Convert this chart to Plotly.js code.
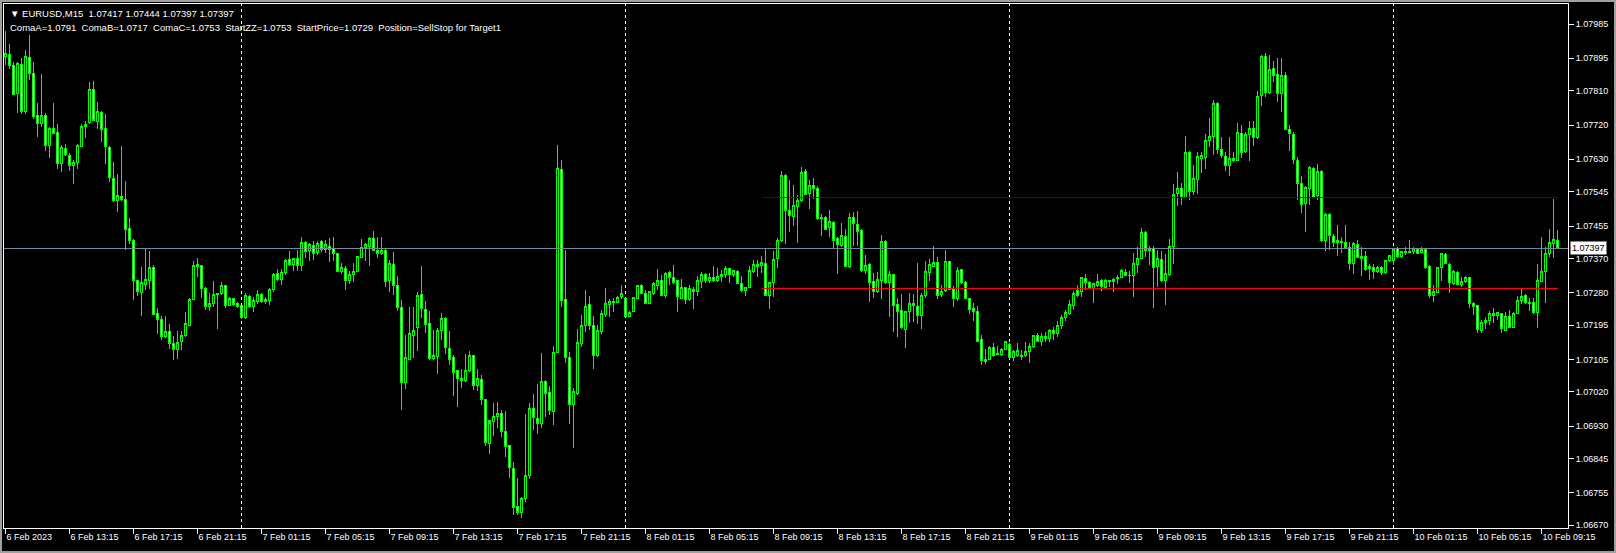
<!DOCTYPE html>
<html><head><meta charset="utf-8">
<script src="https://cdn.plot.ly/plotly-3.0.1.min.js"></script>
<style>
html,body{margin:0;padding:0;background:#000;overflow:hidden}
#chart{position:absolute;left:0;top:0;width:1616px;height:553px}
#chart svg path{shape-rendering:crispEdges}
#frame{position:absolute;left:0;top:0;width:1612px;height:549px;border:2px solid #a0a0a0;pointer-events:none}
</style></head><body>
<div id="chart"></div><div id="frame"></div>
<script>
const symbol = "EURUSD,M15";
const startTime = [2023, 1, 6, 9, 15]; // 6 Feb 2023 09:15, M15 bars
const barMinutes = 15;

const open = [
1.07901,1.07905,1.07875,1.07802,1.07880,1.07755,1.07897,1.07854,1.07745,1.07724,
1.07746,1.07665,1.07711,1.07700,1.07618,1.07658,1.07640,1.07613,1.07621,1.07663,
1.07715,1.07726,1.07812,1.07730,1.07753,1.07712,1.07662,1.07580,1.07521,1.07533,
1.07525,1.07448,1.07418,1.07312,1.07280,1.07301,1.07313,1.07347,1.07225,1.07210,
1.07164,1.07179,1.07147,1.07131,1.07151,1.07167,1.07195,1.07262,1.07350,1.07351,
1.07292,1.07245,1.07251,1.07275,1.07278,1.07299,1.07247,1.07265,1.07251,1.07246,
1.07214,1.07271,1.07245,1.07258,1.07276,1.07257,1.07259,1.07289,1.07331,1.07315,
1.07334,1.07366,1.07355,1.07370,1.07351,1.07413,1.07391,1.07404,1.07386,1.07414,
1.07394,1.07401,1.07397,1.07384,1.07336,1.07344,1.07313,1.07329,1.07336,1.07372,
1.07398,1.07401,1.07423,1.07392,1.07383,1.07392,1.07311,1.07355,1.07300,1.07242,
1.07045,1.07106,1.07169,1.07188,1.07274,1.07237,1.07200,1.07107,1.07112,1.07180,
1.07213,1.07134,1.07111,1.07075,1.07056,1.07050,1.07075,1.07114,1.07036,1.07051,
1.06999,1.06885,1.06942,1.06955,1.06964,1.06917,1.06878,1.06819,1.06718,1.06704,
1.06740,1.06800,1.06975,1.06950,1.06936,1.07048,1.07018,1.06968,1.07123,1.07604,
1.07261,1.07110,1.06987,1.07016,1.07146,1.07195,1.07248,1.07193,1.07115,1.07178,
1.07224,1.07249,1.07254,1.07254,1.07270,1.07264,1.07217,1.07230,1.07265,1.07298,
1.07279,1.07251,1.07279,1.07300,1.07311,1.07272,1.07333,1.07320,1.07311,1.07265,
1.07294,1.07262,1.07288,1.07283,1.07309,1.07328,1.07312,1.07320,1.07312,1.07322,
1.07328,1.07344,1.07328,1.07335,1.07305,1.07285,1.07294,1.07335,1.07348,1.07351,
1.07357,1.07272,1.07307,1.07370,1.07416,1.07588,1.07496,1.07479,1.07505,1.07521,
1.07599,1.07539,1.07560,1.07553,1.07474,1.07477,1.07450,1.07465,1.07422,1.07405,
1.07428,1.07348,1.07477,1.07460,1.07444,1.07337,1.07355,1.07310,1.07282,1.07313,
1.07415,1.07306,1.07329,1.07250,1.07234,1.07184,1.07230,1.07252,1.07245,1.07219,
1.07272,1.07332,1.07350,1.07359,1.07275,1.07285,1.07362,1.07288,1.07266,1.07341,
1.07307,1.07265,1.07238,1.07231,1.07157,1.07105,1.07106,1.07136,1.07117,1.07117,
1.07131,1.07145,1.07109,1.07116,1.07116,1.07114,1.07125,1.07138,1.07168,1.07153,
1.07165,1.07160,1.07180,1.07172,1.07195,1.07215,1.07226,1.07246,1.07285,1.07283,
1.07318,1.07307,1.07290,1.07298,1.07311,1.07294,1.07310,1.07309,1.07318,1.07320,
1.07333,1.07326,1.07324,1.07355,1.07370,1.07438,1.07390,1.07396,1.07348,1.07368,
1.07311,1.07329,1.07401,1.07539,1.07554,1.07530,1.07648,1.07545,1.07578,1.07632,
1.07635,1.07679,1.07689,1.07777,1.07656,1.07637,1.07613,1.07633,1.07628,1.07698,
1.07650,1.07694,1.07711,1.07687,1.07797,1.07899,1.07806,1.07869,1.07853,1.07803,
1.07851,1.07709,1.07696,1.07628,1.07566,1.07514,1.07553,1.07606,1.07534,1.07599,
1.07416,1.07485,1.07428,1.07418,1.07411,1.07412,1.07398,1.07356,1.07406,1.07371,
1.07376,1.07343,1.07346,1.07335,1.07346,1.07332,1.07364,1.07365,1.07396,1.07374,
1.07385,1.07389,1.07387,1.07394,1.07385,1.07394,1.07349,1.07273,1.07280,1.07346,
1.07380,1.07354,1.07304,1.07333,1.07301,1.07310,1.07320,1.07252,1.07246,1.07182,
1.07201,1.07206,1.07225,1.07219,1.07225,1.07182,1.07218,1.07190,1.07225,1.07259,
1.07272,1.07254,1.07254,1.07227,1.07310,1.07335,1.07383,1.07409,1.07417];

const high = [
1.07967,1.07932,1.07886,1.07886,1.07895,1.07917,1.07956,1.07885,1.07777,1.07853,
1.07752,1.07715,1.07777,1.07722,1.07667,1.07670,1.07647,1.07628,1.07671,1.07722,
1.07731,1.07833,1.07835,1.07780,1.07756,1.07749,1.07665,1.07622,1.07591,1.07665,
1.07573,1.07477,1.07422,1.07314,1.07347,1.07394,1.07389,1.07352,1.07240,1.07218,
1.07218,1.07199,1.07166,1.07179,1.07179,1.07229,1.07266,1.07363,1.07372,1.07352,
1.07295,1.07278,1.07310,1.07278,1.07308,1.07301,1.07269,1.07266,1.07256,1.07247,
1.07278,1.07273,1.07269,1.07286,1.07279,1.07270,1.07292,1.07331,1.07342,1.07342,
1.07368,1.07390,1.07372,1.07392,1.07426,1.07416,1.07410,1.07416,1.07416,1.07418,
1.07418,1.07423,1.07426,1.07385,1.07358,1.07349,1.07336,1.07357,1.07377,1.07420,
1.07410,1.07425,1.07441,1.07427,1.07426,1.07395,1.07366,1.07388,1.07325,1.07261,
1.07169,1.07243,1.07243,1.07281,1.07350,1.07259,1.07232,1.07182,1.07188,1.07227,
1.07217,1.07180,1.07117,1.07077,1.07080,1.07119,1.07126,1.07117,1.07080,1.07064,
1.07001,1.06936,1.06991,1.06994,1.06972,1.06970,1.06880,1.06837,1.06793,1.06745,
1.06963,1.06991,1.07013,1.07040,1.07121,1.07051,1.07035,1.07140,1.07668,1.07628,
1.07392,1.07124,1.07029,1.07185,1.07222,1.07287,1.07271,1.07219,1.07195,1.07235,
1.07292,1.07264,1.07265,1.07271,1.07300,1.07265,1.07232,1.07270,1.07300,1.07303,
1.07287,1.07285,1.07309,1.07342,1.07327,1.07334,1.07337,1.07353,1.07313,1.07316,
1.07296,1.07300,1.07296,1.07324,1.07335,1.07331,1.07331,1.07350,1.07344,1.07340,
1.07350,1.07346,1.07340,1.07340,1.07324,1.07296,1.07350,1.07365,1.07366,1.07377,
1.07395,1.07309,1.07390,1.07423,1.07599,1.07591,1.07575,1.07562,1.07536,1.07610,
1.07604,1.07577,1.07582,1.07560,1.07486,1.07482,1.07498,1.07468,1.07425,1.07464,
1.07448,1.07488,1.07491,1.07494,1.07446,1.07378,1.07357,1.07332,1.07335,1.07431,
1.07418,1.07336,1.07330,1.07266,1.07276,1.07231,1.07278,1.07276,1.07358,1.07280,
1.07363,1.07368,1.07402,1.07374,1.07300,1.07392,1.07363,1.07297,1.07348,1.07342,
1.07310,1.07267,1.07254,1.07245,1.07169,1.07131,1.07140,1.07149,1.07140,1.07136,
1.07153,1.07147,1.07129,1.07149,1.07129,1.07151,1.07149,1.07170,1.07173,1.07175,
1.07178,1.07185,1.07190,1.07205,1.07222,1.07234,1.07261,1.07284,1.07300,1.07322,
1.07328,1.07311,1.07305,1.07329,1.07315,1.07315,1.07313,1.07318,1.07326,1.07341,
1.07341,1.07337,1.07383,1.07399,1.07450,1.07442,1.07403,1.07402,1.07391,1.07390,
1.07381,1.07421,1.07565,1.07597,1.07567,1.07692,1.07652,1.07615,1.07648,1.07648,
1.07696,1.07738,1.07786,1.07780,1.07688,1.07650,1.07688,1.07648,1.07724,1.07720,
1.07701,1.07731,1.07731,1.07808,1.07904,1.07908,1.07904,1.07888,1.07895,1.07895,
1.07858,1.07720,1.07701,1.07635,1.07586,1.07560,1.07612,1.07609,1.07617,1.07602,
1.07490,1.07488,1.07435,1.07457,1.07427,1.07457,1.07413,1.07413,1.07418,1.07400,
1.07389,1.07355,1.07356,1.07349,1.07349,1.07367,1.07378,1.07396,1.07400,1.07390,
1.07400,1.07418,1.07399,1.07398,1.07399,1.07396,1.07352,1.07300,1.07348,1.07385,
1.07383,1.07358,1.07339,1.07336,1.07322,1.07323,1.07322,1.07256,1.07249,1.07208,
1.07217,1.07231,1.07241,1.07230,1.07227,1.07230,1.07234,1.07230,1.07271,1.07293,
1.07276,1.07265,1.07265,1.07355,1.07425,1.07400,1.07447,1.07525,1.07444];

const low = [
1.07877,1.07866,1.07798,1.07752,1.07749,1.07750,1.07839,1.07737,1.07689,1.07715,
1.07652,1.07634,1.07698,1.07605,1.07597,1.07638,1.07600,1.07565,1.07605,1.07661,
1.07686,1.07722,1.07731,1.07709,1.07676,1.07619,1.07571,1.07518,1.07492,1.07521,
1.07391,1.07409,1.07260,1.07272,1.07218,1.07287,1.07291,1.07221,1.07171,1.07155,
1.07161,1.07133,1.07103,1.07107,1.07129,1.07164,1.07192,1.07260,1.07320,1.07266,
1.07234,1.07232,1.07243,1.07185,1.07275,1.07241,1.07244,1.07246,1.07241,1.07211,
1.07211,1.07241,1.07230,1.07251,1.07252,1.07251,1.07248,1.07281,1.07312,1.07300,
1.07327,1.07351,1.07336,1.07338,1.07338,1.07372,1.07362,1.07366,1.07378,1.07388,
1.07383,1.07360,1.07362,1.07334,1.07329,1.07286,1.07302,1.07307,1.07334,1.07371,
1.07364,1.07349,1.07391,1.07371,1.07379,1.07296,1.07283,1.07273,1.07231,1.06971,
1.07027,1.07104,1.07108,1.07127,1.07213,1.07173,1.07104,1.07104,1.07067,1.07156,
1.07120,1.07091,1.07010,1.06981,1.07031,1.07045,1.07073,1.07024,1.07023,1.06986,
1.06879,1.06858,1.06905,1.06924,1.06901,1.06850,1.06795,1.06697,1.06697,1.06690,
1.06730,1.06790,1.06920,1.06910,1.06925,1.06955,1.06959,1.06933,1.07121,1.07243,
1.07095,1.06936,1.06872,1.07012,1.07138,1.07178,1.07182,1.07080,1.07112,1.07172,
1.07215,1.07217,1.07229,1.07252,1.07264,1.07215,1.07215,1.07229,1.07264,1.07276,
1.07250,1.07250,1.07274,1.07286,1.07271,1.07267,1.07300,1.07302,1.07230,1.07264,
1.07250,1.07257,1.07237,1.07272,1.07292,1.07306,1.07305,1.07309,1.07309,1.07309,
1.07318,1.07306,1.07320,1.07302,1.07283,1.07272,1.07292,1.07333,1.07320,1.07331,
1.07271,1.07237,1.07270,1.07344,1.07413,1.07407,1.07440,1.07455,1.07411,1.07518,
1.07536,1.07500,1.07527,1.07472,1.07428,1.07444,1.07425,1.07396,1.07329,1.07399,
1.07348,1.07346,1.07402,1.07402,1.07335,1.07330,1.07256,1.07265,1.07280,1.07263,
1.07304,1.07217,1.07177,1.07164,1.07184,1.07136,1.07201,1.07203,1.07197,1.07186,
1.07267,1.07310,1.07348,1.07263,1.07269,1.07282,1.07287,1.07243,1.07258,1.07304,
1.07263,1.07225,1.07206,1.07150,1.07090,1.07093,1.07103,1.07112,1.07116,1.07115,
1.07129,1.07107,1.07101,1.07112,1.07103,1.07112,1.07096,1.07135,1.07151,1.07140,
1.07150,1.07150,1.07155,1.07165,1.07185,1.07205,1.07221,1.07234,1.07269,1.07269,
1.07287,1.07289,1.07254,1.07294,1.07285,1.07291,1.07294,1.07283,1.07303,1.07318,
1.07324,1.07306,1.07269,1.07332,1.07368,1.07374,1.07353,1.07241,1.07296,1.07309,
1.07249,1.07325,1.07355,1.07508,1.07510,1.07529,1.07523,1.07536,1.07538,1.07593,
1.07605,1.07661,1.07641,1.07643,1.07633,1.07600,1.07587,1.07624,1.07626,1.07633,
1.07647,1.07626,1.07666,1.07683,1.07771,1.07794,1.07801,1.07832,1.07781,1.07755,
1.07707,1.07652,1.07617,1.07522,1.07490,1.07440,1.07511,1.07530,1.07523,1.07413,
1.07390,1.07393,1.07399,1.07377,1.07383,1.07394,1.07339,1.07329,1.07370,1.07324,
1.07337,1.07313,1.07317,1.07332,1.07326,1.07330,1.07361,1.07352,1.07372,1.07372,
1.07378,1.07383,1.07381,1.07383,1.07383,1.07343,1.07266,1.07256,1.07278,1.07311,
1.07354,1.07280,1.07301,1.07300,1.07294,1.07306,1.07241,1.07221,1.07175,1.07175,
1.07186,1.07195,1.07201,1.07208,1.07173,1.07180,1.07189,1.07189,1.07224,1.07250,
1.07250,1.07232,1.07225,1.07188,1.07308,1.07253,1.07374,1.07370,1.07397];

const close = [
1.07908,1.07875,1.07801,1.07882,1.07756,1.07900,1.07854,1.07742,1.07724,1.07746,
1.07665,1.07711,1.07699,1.07618,1.07661,1.07642,1.07613,1.07622,1.07665,1.07716,
1.07721,1.07812,1.07733,1.07756,1.07709,1.07663,1.07581,1.07521,1.07535,1.07525,
1.07445,1.07416,1.07311,1.07282,1.07307,1.07315,1.07347,1.07224,1.07210,1.07164,
1.07179,1.07147,1.07131,1.07150,1.07168,1.07199,1.07262,1.07351,1.07354,1.07290,
1.07245,1.07251,1.07275,1.07278,1.07299,1.07247,1.07265,1.07250,1.07244,1.07214,
1.07272,1.07244,1.07260,1.07275,1.07257,1.07261,1.07289,1.07328,1.07315,1.07333,
1.07364,1.07354,1.07370,1.07351,1.07413,1.07388,1.07406,1.07383,1.07410,1.07393,
1.07406,1.07394,1.07384,1.07336,1.07346,1.07313,1.07329,1.07336,1.07374,1.07399,
1.07406,1.07423,1.07392,1.07383,1.07392,1.07309,1.07357,1.07299,1.07241,1.07045,
1.07111,1.07174,1.07182,1.07272,1.07239,1.07197,1.07107,1.07114,1.07180,1.07213,
1.07136,1.07105,1.07071,1.07055,1.07050,1.07075,1.07114,1.07036,1.07054,1.07000,
1.06887,1.06944,1.06955,1.06964,1.06916,1.06877,1.06821,1.06716,1.06704,1.06740,
1.06800,1.06975,1.06952,1.06936,1.07048,1.07015,1.06970,1.07124,1.07607,1.07259,
1.07110,1.06987,1.07022,1.07150,1.07195,1.07245,1.07194,1.07115,1.07180,1.07226,
1.07252,1.07256,1.07256,1.07268,1.07277,1.07217,1.07229,1.07268,1.07298,1.07278,
1.07251,1.07283,1.07303,1.07313,1.07272,1.07331,1.07320,1.07308,1.07269,1.07294,
1.07263,1.07290,1.07283,1.07311,1.07329,1.07311,1.07320,1.07312,1.07323,1.07329,
1.07344,1.07328,1.07337,1.07304,1.07285,1.07294,1.07337,1.07353,1.07355,1.07359,
1.07272,1.07307,1.07368,1.07418,1.07588,1.07496,1.07482,1.07510,1.07521,1.07596,
1.07538,1.07560,1.07553,1.07474,1.07477,1.07447,1.07468,1.07418,1.07406,1.07431,
1.07350,1.07477,1.07461,1.07440,1.07337,1.07352,1.07308,1.07282,1.07315,1.07415,
1.07306,1.07329,1.07247,1.07230,1.07188,1.07230,1.07252,1.07246,1.07219,1.07273,
1.07336,1.07354,1.07359,1.07273,1.07284,1.07362,1.07288,1.07265,1.07339,1.07306,
1.07265,1.07237,1.07230,1.07153,1.07101,1.07099,1.07136,1.07114,1.07121,1.07131,
1.07151,1.07109,1.07127,1.07129,1.07112,1.07127,1.07140,1.07168,1.07153,1.07165,
1.07160,1.07180,1.07172,1.07195,1.07215,1.07227,1.07248,1.07278,1.07272,1.07320,
1.07307,1.07291,1.07303,1.07310,1.07296,1.07311,1.07312,1.07315,1.07321,1.07337,
1.07325,1.07324,1.07357,1.07370,1.07438,1.07390,1.07396,1.07346,1.07370,1.07311,
1.07331,1.07402,1.07538,1.07554,1.07530,1.07648,1.07545,1.07580,1.07637,1.07639,
1.07679,1.07691,1.07777,1.07656,1.07639,1.07613,1.07633,1.07626,1.07701,1.07648,
1.07696,1.07711,1.07687,1.07796,1.07901,1.07806,1.07866,1.07850,1.07803,1.07851,
1.07709,1.07698,1.07630,1.07567,1.07511,1.07556,1.07609,1.07531,1.07599,1.07416,
1.07486,1.07429,1.07413,1.07412,1.07415,1.07398,1.07356,1.07409,1.07372,1.07376,
1.07342,1.07348,1.07335,1.07346,1.07332,1.07365,1.07377,1.07394,1.07374,1.07387,
1.07389,1.07385,1.07396,1.07384,1.07394,1.07346,1.07273,1.07282,1.07346,1.07383,
1.07357,1.07306,1.07336,1.07301,1.07310,1.07319,1.07252,1.07243,1.07183,1.07202,
1.07208,1.07225,1.07219,1.07227,1.07185,1.07218,1.07190,1.07225,1.07259,1.07269,
1.07253,1.07252,1.07227,1.07313,1.07335,1.07383,1.07412,1.07419,1.07397];

const timeTickLabels = [
"6 Feb 2023","6 Feb 13:15","6 Feb 17:15","6 Feb 21:15",
"7 Feb 01:15","7 Feb 05:15","7 Feb 09:15","7 Feb 13:15","7 Feb 17:15","7 Feb 21:15",
"8 Feb 01:15","8 Feb 05:15","8 Feb 09:15","8 Feb 13:15","8 Feb 17:15","8 Feb 21:15",
"9 Feb 01:15","9 Feb 05:15","9 Feb 09:15","9 Feb 13:15","9 Feb 17:15","9 Feb 21:15",
"10 Feb 01:15","10 Feb 05:15","10 Feb 09:15"];
const timeTickEveryBars = 16;

const priceTickLabels = ["1.07985","1.07895","1.07810","1.07720","1.07630","1.07545",
"1.07455","1.07370","1.07280","1.07195","1.07105","1.07020","1.06930","1.06845","1.06755","1.06670"];
const priceRange = [1.066626, 1.080375];

const separatorDates = ["2023-02-07 00:00","2023-02-08 00:00","2023-02-09 00:00","2023-02-10 00:00"];

const bidLevel = 1.07397;
const levelNames = ["ComaA","ComaB","ComaC","StartZZ","StartPrice"];
const levelValues = [1.0791, 1.0717, 1.0753, 1.0753, 1.0729];
const positionText = "SellStop for Target1";
const levelLineFromBar = 189;

// ---------- build ----------
const BAR_MS = barMinutes * 60000;
const t0 = Date.UTC(startTime[0], startTime[1], startTime[2], startTime[3], startTime[4]);
function p2(n){ return (n < 10 ? "0" : "") + n; }
function fmt(ms){
  const d = new Date(ms);
  return d.getUTCFullYear() + "-" + p2(d.getUTCMonth()+1) + "-" + p2(d.getUTCDate()) +
         " " + p2(d.getUTCHours()) + ":" + p2(d.getUTCMinutes());
}
const times = open.map((_, i) => fmt(t0 + i * BAR_MS));
const last = open.length - 1;

const FONT = "Liberation Sans, Arial, DejaVu Sans, sans-serif";
const NB = "\u00a0";

const tickVals = timeTickLabels.map((_, k) => times[k * timeTickEveryBars]);
const priceVals = priceTickLabels.map(Number);

const comaC = levelValues[2];
const startPrice = levelValues[4];

const shapes = [];
separatorDates.forEach(d => shapes.push({
  type: "line", xref: "x", yref: "paper", x0: d, x1: d, y0: 0, y1: 1, layer: "below",
  line: {color: "#ffffff", width: 1, dash: "3px,3px"}
}));
shapes.push({type: "line", xref: "paper", yref: "y", x0: 0, x1: 1, y0: bidLevel, y1: bidLevel,
  line: {color: "#778899", width: 1}});
shapes.push({type: "line", xref: "x", yref: "y", x0: times[levelLineFromBar], x1: times[last],
  y0: comaC, y1: comaC, line: {color: "#0000ff", width: 1}});
shapes.push({type: "line", xref: "x", yref: "y", x0: times[levelLineFromBar], x1: times[last],
  y0: startPrice, y1: startPrice, line: {color: "#ff0000", width: 1}});

const PL = 4, PT = 4, PW = 1564, PH = 524;
function px2paperX(px){ return (px - PL) / PW; }
function px2paperY(py){ return 1 - (py - PT) / PH; }

const head1 = "\u25BC" + NB + symbol + NB + NB + [open[last], high[last], low[last], close[last]].map(v => v.toFixed(5)).join(NB);
const head2 = levelNames.map((n, i) => n + "=" + levelValues[i].toFixed(4)).join(NB + NB) +
              NB + NB + "Position=" + positionText;

const annotations = [
  {xref: "paper", yref: "paper", x: px2paperX(8), y: px2paperY(13), xanchor: "left", yanchor: "middle",
   text: head1, showarrow: false, font: {family: FONT, size: 9.5, color: "#ffffff"}},
  {xref: "paper", yref: "paper", x: px2paperX(8), y: px2paperY(27.5), xanchor: "left", yanchor: "middle",
   text: head2, showarrow: false, font: {family: FONT, size: 9.5, color: "#ffffff"}},
  {xref: "paper", yref: "y", x: 1, y: bidLevel, xanchor: "left", yanchor: "middle", xshift: 2,
   text: bidLevel.toFixed(5), showarrow: false, bgcolor: "#ffffff", borderpad: 1,
   font: {family: FONT, size: 9, color: "#000000"}}
];

const trace = {
  type: "candlestick", x: times, open: open, high: high, low: low, close: close,
  increasing: {line: {color: "#00ff00", width: 1}, fillcolor: "#000000"},
  decreasing: {line: {color: "#00ff00", width: 1}, fillcolor: "#ffffff"},
  whiskerwidth: 0, hoverinfo: "skip", showlegend: false
};

const layout = {
  width: 1616, height: 553,
  margin: {l: 4, r: 48, t: 4, b: 25, pad: 0},
  paper_bgcolor: "#000000", plot_bgcolor: "#000000",
  showlegend: false,
  boxgap: 0.5, boxgroupgap: 0,
  xaxis: {
    type: "date", range: [t0 - 0.375 * BAR_MS, t0 + (PW / 4 - 0.375) * BAR_MS],
    rangeslider: {visible: false}, showgrid: false, zeroline: false,
    showline: true, mirror: true, linecolor: "#ffffff", linewidth: 1,
    ticks: "outside", ticklen: 5, tickcolor: "#ffffff", tickwidth: 1,
    tickmode: "array", tickvals: tickVals, ticktext: timeTickLabels,
    ticklabelposition: "outside right",
    tickfont: {family: FONT, size: 9, color: "#ffffff"}, fixedrange: true
  },
  yaxis: {
    side: "right", range: priceRange, showgrid: false, zeroline: false,
    showline: true, mirror: true, linecolor: "#ffffff", linewidth: 1,
    ticks: "outside", ticklen: 5, tickcolor: "#ffffff", tickwidth: 1,
    tickmode: "array", tickvals: priceVals, ticktext: priceTickLabels,
    tickfont: {family: FONT, size: 9, color: "#ffffff"}, fixedrange: true
  },
  shapes: shapes,
  annotations: annotations
};

Plotly.newPlot("chart", [trace], layout, {staticPlot: true, displayModeBar: false});
</script>
</body></html>
